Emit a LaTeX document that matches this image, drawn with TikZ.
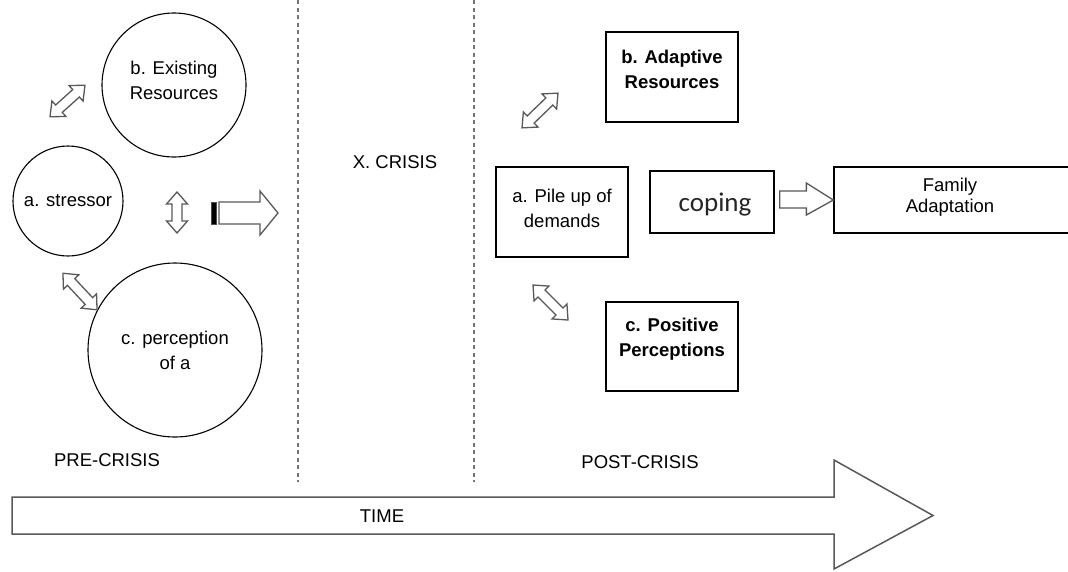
\documentclass[tikz,border=0pt]{standalone}
\usepackage{fontspec}
\setmainfont{Liberation Sans}
\newfontfamily\copingfont{Carlito}
\usetikzlibrary{calc}
% double-headed block arrow: #1 centre, #2 angle (screen, ccw), #3 length
\newcommand\dblblock[3]{%
  \begin{scope}[shift={#1}, rotate=#2]
    \draw[blk] (-#3/2,0) -- (-#3/2+12,-10.5) -- (-#3/2+12,-5) -- (#3/2-12,-5)
      -- (#3/2-12,-10.5) -- (#3/2,0) -- (#3/2-12,10.5) -- (#3/2-12,5)
      -- (-#3/2+12,5) -- (-#3/2+12,10.5) -- cycle;
  \end{scope}}
\begin{document}
\begin{tikzpicture}[x=1pt,y=-1pt,
  lbl/.style={font=\fontsize{18.5}{25}\selectfont, align=center, inner sep=0pt},
  circ/.style={draw=black, circle, line width=1.1pt, inner sep=0pt},
  box/.style={draw=black, rectangle, line width=1.3pt, inner sep=0pt},
  blk/.style={draw=black!65, line width=1.3pt, fill=white, line join=miter},
  sep/.style={draw=black!55, line width=2.5pt, dash pattern=on 4pt off 3.5pt}]
\clip (0,0) rectangle (1068,571);
\fill[white] (0,0) rectangle (1068,571);

% separators
\coordinate (s1top) at (298,0);   \coordinate (s1bot) at (298,482);
\coordinate (s2top) at (474,0);   \coordinate (s2bot) at (474,482);
\draw[sep] (s1top) -- (s1bot);
\draw[sep] (s2top) -- (s2bot);

% pre-crisis circles
\node[circ, minimum size=144, label={[lbl,yshift=5pt]center:b. Existing\\Resources}] (exist) at (174,85) {};
\node[circ, minimum size=110, label={[lbl]center:a. stressor}] (stress) at (68,201) {};
\node[circ, minimum size=174, label={[lbl]center:c. perception\\of a}] (percep) at (175,350) {};

% pre-crisis block arrows
\dblblock{(67.5,101)}{42}{47}
\dblblock{(177,212.5)}{90}{41}
\dblblock{(80,291.5)}{-47}{50}

% striped arrow
\fill[black] (211,202) rectangle (216,224);
\draw[black!70, line width=1pt] (211,202) rectangle (216,224);
\draw[blk] (219,202) -- (260,202) -- (260,191) -- (278,213) -- (260,235)
  -- (260,224) -- (219,224) -- cycle;

% crisis
\node[lbl] (crisis) at (395,162) {X. CRISIS};

% post-crisis boxes
\node[box, minimum width=132, minimum height=90,
  label={[lbl,font=\fontsize{18.5}{25}\selectfont\bfseries,yshift=7.5pt]center:b. Adaptive\\Resources}] (adapt) at (672,77) {};
\node[box, minimum width=132, minimum height=90,
  label={[lbl,yshift=4pt]center:a. Pile up of\\demands}] (pile) at (562,212) {};
\node[box, minimum width=132, minimum height=89,
  label={[lbl,font=\fontsize{18.5}{25}\selectfont\bfseries,yshift=7pt]center:c. Positive\\Perceptions}] (posit) at (672,346.5) {};
\node[box, minimum width=124, minimum height=62,
  label={[inner sep=0pt,font=\copingfont\fontsize{27}{30}\selectfont,text=black!85,xshift=3pt,yshift=-3pt]center:coping}] (coping) at (712,202) {};
\node[box, minimum width=246, minimum height=66,
  label={[lbl,font=\fontsize{18.5}{21}\selectfont,xshift=-7pt,yshift=2.5pt]center:Family\\Adaptation}] (family) at (957,200) {};

% post-crisis block arrows
\dblblock{(540,110.5)}{44}{50}
\dblblock{(550.5,302.5)}{-45}{49.5}

% coping -> family
\draw[blk] let \p1=($(coping.east)+(5pt,0)$), \p2=(family.west) in
  (\x1,{\y2+9pt}) -- ({\x2-27pt},{\y2+9pt}) -- ({\x2-27pt},{\y2+17pt}) -- (\x2,\y2)
  -- ({\x2-27pt},{\y2-15pt}) -- ({\x2-27pt},{\y2-8pt}) -- (\x1,{\y2-8pt}) -- cycle;

% phase labels
\node[lbl] (pre) at (107,460) {PRE-CRISIS};
\node[lbl] (post) at (640,462) {POST-CRISIS};

% time arrow
\draw[blk, line width=1.5pt] (12,497) -- (834,497) -- (834,460) -- (933,515.5)
  -- (834,569) -- (834,534) -- (12,534) -- cycle;
\node[lbl] (time) at (382,516) {TIME};
\end{tikzpicture}
\end{document}
